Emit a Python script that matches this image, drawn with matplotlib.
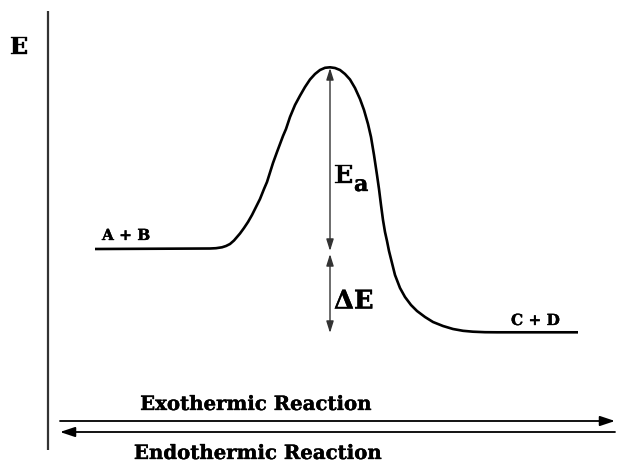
import matplotlib
matplotlib.use("Agg")
import matplotlib.pyplot as plt
import matplotlib.patheffects as pe

# Reaction-coordinate curve (pixel-like units, y grows downward)
curve_x = [95, 210, 216, 222, 226, 230, 234, 237, 240, 244, 248, 252, 256, 260, 264, 267,
           270, 273, 277, 280, 283, 286, 290, 295, 300, 305, 310, 315, 320, 325, 330, 335,
           340, 345, 350, 355, 360, 364, 368, 371, 374, 377, 379, 381, 383, 385, 387, 389,
           392, 395, 400, 405, 411, 417, 425, 433, 443, 453, 463, 473, 485, 497, 578]
curve_y = [250, 249.5, 249.2, 248.3, 247, 245, 241.5, 238, 234.5, 229, 223, 216, 208, 200,
           190, 183, 173.5, 164, 153, 145, 137, 130, 118, 106, 96.7, 88, 80.5, 75, 71, 68.8,
           68.3, 69, 71, 75, 80.5, 89, 100, 111, 125, 138, 156, 176, 190, 206, 221, 233, 242,
           252, 264, 276, 289, 298, 306, 312, 318, 323, 327, 330, 331.8, 332.7, 333.2, 333.3,
           333.3]

reactant_level = 250
product_level = 333
peak_level = 68
peak_x = 330

reactant_label = "A + B"
product_label = "C + D"
axis_label = "E"
forward_label = "Exothermic Reaction"
reverse_label = "Endothermic Reaction"

fig = plt.figure(figsize=(6.17, 4.64), dpi=100)
ax = fig.add_axes([0, 0, 1, 1])
ax.set_xlim(0, 617)
ax.set_ylim(464, 0)
ax.axis("off")

heavy = [pe.withStroke(linewidth=0.25, foreground="black")]
font = dict(family="DejaVu Serif", fontweight="bold", color="black", path_effects=heavy)

# vertical energy axis
ax.plot([48, 48], [12, 451], color="#333333", lw=1.6, solid_capstyle="butt")
ax.text(19, 48, axis_label, fontsize=17, ha="center", va="center", **font)

# curve
ax.plot(curve_x, curve_y, color="black", lw=1.9, solid_capstyle="butt", solid_joinstyle="round")

ax.text(102, 237, reactant_label, fontsize=11, ha="left", va="center", **font)
ax.text(511, 322, product_label, fontsize=11, ha="left", va="center", **font)

arrow = dict(arrowstyle="<|-|>,head_length=0.7,head_width=0.22", color="#333333", lw=1.0,
             shrinkA=0, shrinkB=0)
ax.annotate("", xy=(peak_x, peak_level + 1), xytext=(peak_x, reactant_level + 2), arrowprops=arrow)
ax.annotate("", xy=(peak_x, reactant_level + 5), xytext=(peak_x, product_level + 1), arrowprops=arrow)

ax.text(334, 177, "E", fontsize=18, ha="left", va="center", **font)
ax.text(354, 186, "a", fontsize=16, ha="left", va="center", **font)
ax.text(334, 302, "\u0394E", fontsize=18.5, ha="left", va="center", **font)

# reaction direction arrows
harrow = dict(arrowstyle="-|>,head_length=0.9,head_width=0.3", color="black", lw=1.3,
              shrinkA=0, shrinkB=0)
ax.annotate("", xy=(615, 422), xytext=(60, 422), arrowprops=harrow)
ax.annotate("", xy=(60, 433), xytext=(615, 433), arrowprops=harrow)

ax.text(256, 405, forward_label, fontsize=14.2, ha="center", va="center", **font)
ax.text(258, 454, reverse_label, fontsize=14.2, ha="center", va="center", **font)

fig.savefig("out.png", dpi=100, facecolor="white")
